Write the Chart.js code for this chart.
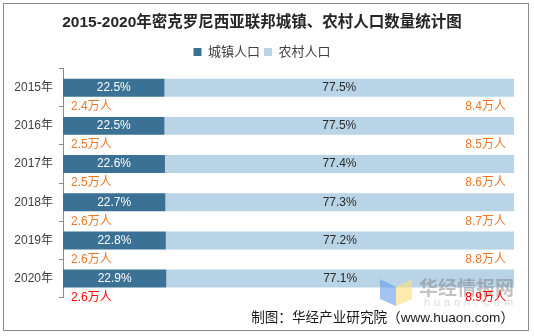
<!DOCTYPE html>
<html>
<head>
<meta charset="utf-8">
<script src="https://cdn.jsdelivr.net/npm/chart.js@4/dist/chart.umd.min.js"></script>
<style>
  html, body { margin: 0; padding: 0; background: #ffffff; }
  #wrap { width: 534px; height: 336px; }
</style>
</head>
<body>
<div id="wrap"><canvas id="c" width="534" height="336"></canvas></div>
<script>
const categories = ['2015年', '2016年', '2017年', '2018年', '2019年', '2020年'];
const urbanShare = [22.5, 22.5, 22.6, 22.7, 22.8, 22.9];
const ruralShare = [77.5, 77.5, 77.4, 77.3, 77.2, 77.1];
const urbanPop = [2.4, 2.5, 2.5, 2.6, 2.6, 2.6];
const ruralPop = [8.4, 8.5, 8.6, 8.7, 8.8, 8.9];
const seriesNames = ['城镇人口', '农村人口'];

const FONT = "'Liberation Sans', 'Noto Sans CJK SC', sans-serif";
const DARK = '#3a7194';
const LIGHT = '#b8d4e6';
const ORANGE = '#e8782a';
const RED = '#ff0000';

const framePlugin = {
  id: 'frame',
  beforeDraw(chart) {
    const ctx = chart.ctx;
    ctx.save();
    ctx.fillStyle = '#ffffff';
    ctx.fillRect(0, 0, chart.width, chart.height);
    ctx.strokeStyle = '#8c8c8c';
    ctx.lineWidth = 1;
    ctx.strokeRect(3.5, 3.5, 525, 327);
    ctx.restore();
  }
};

const watermarkPlugin = {
  id: 'watermark',
  afterDatasetsDraw(chart) {
    const ctx = chart.ctx;
    ctx.save();
    ctx.fillStyle = 'rgba(90,150,235,0.55)';
    ctx.beginPath();
    ctx.moveTo(380, 279); ctx.lineTo(396, 287); ctx.lineTo(396, 306); ctx.lineTo(380, 299);
    ctx.closePath(); ctx.fill();
    ctx.fillStyle = 'rgba(250,225,120,0.6)';
    ctx.beginPath();
    ctx.moveTo(396, 287); ctx.lineTo(412, 279); ctx.lineTo(412, 299); ctx.lineTo(396, 306);
    ctx.closePath(); ctx.fill();
    ctx.fillStyle = 'rgba(120,120,120,0.45)';
    ctx.font = "bold 19px 'Noto Sans CJK SC', sans-serif";
    ctx.textBaseline = 'middle';
    ctx.textAlign = 'left';
    ctx.fillText('华经情报网', 419, 288);
    ctx.fillStyle = 'rgba(150,150,150,0.35)';
    ctx.font = "11px " + FONT;
    const s = 'huaon.com';
    for (let i = 0; i < s.length; i++) {
      ctx.fillText(s[i], 424 + i * 10, 303);
    }
    ctx.restore();
  }
};

const labelPlugin = {
  id: 'valueLabels',
  afterDraw(chart) {
    const ctx = chart.ctx;
    const xs = chart.scales.x;
    const ys = chart.scales.y;
    const half = (ys.getPixelForValue(1) - ys.getPixelForValue(0)) / 2;
    ctx.save();
    ctx.textBaseline = 'middle';
    ctx.font = '12px ' + FONT;
    const m0 = chart.getDatasetMeta(0).data;
    const m1 = chart.getDatasetMeta(1).data;
    for (let i = 0; i < categories.length; i++) {
      ctx.textAlign = 'center';
      const b0 = m0[i];
      ctx.fillStyle = '#ffffff';
      ctx.fillText(urbanShare[i].toFixed(1) + '%', (b0.base + b0.x) / 2, b0.y);
      const b1 = m1[i];
      ctx.fillStyle = '#2b2b2b';
      ctx.fillText(ruralShare[i].toFixed(1) + '%', (b1.base + b1.x) / 2, b1.y);

      const y = ys.getPixelForValue(i) + half;
      const col = i === categories.length - 1 ? RED : ORANGE;
      ctx.fillStyle = col;
      ctx.textAlign = 'left';
      ctx.fillText(urbanPop[i].toFixed(1) + '万人', xs.getPixelForValue(0) + 8, y);
      ctx.textAlign = 'right';
      ctx.fillText(ruralPop[i].toFixed(1) + '万人', xs.getPixelForValue(100) - 8, y);
    }
    ctx.restore();
  }
};

new Chart(document.getElementById('c'), {
  type: 'bar',
  data: {
    labels: categories,
    datasets: [
      { label: seriesNames[0], data: urbanShare, backgroundColor: DARK },
      { label: seriesNames[1], data: ruralShare, backgroundColor: LIGHT }
    ]
  },
  options: {
    indexAxis: 'y',
    responsive: false,
    animation: false,
    devicePixelRatio: 1,
    layout: { padding: { left: 10, right: 20, top: 0, bottom: 0 } },
    datasets: { bar: { categoryPercentage: 1, barPercentage: 0.47 } },
    scales: {
      x: { stacked: true, min: 0, max: 100, display: false },
      y: {
        stacked: true,
        afterFit(s) { s.width = 53; },
        border: { display: true, color: '#8c8c8c', width: 1 },
        grid: { drawOnChartArea: false, drawTicks: true, tickLength: 4, color: '#8c8c8c', offset: true },
        ticks: { color: '#404040', font: { size: 12, family: FONT }, padding: 6 }
      }
    },
    plugins: {
      title: {
        display: true,
        text: '2015-2020年密克罗尼西亚联邦城镇、农村人口数量统计图',
        color: '#262626',
        font: { size: 15.5, weight: 'bold', family: FONT },
        padding: { top: 13, bottom: 10 }
      },
      subtitle: {
        display: true,
        position: 'bottom',
        align: 'end',
        text: '制图：华经产业研究院（www.huaon.com）',
        color: '#1a1a1a',
        font: { size: 13.6, weight: 'normal', family: FONT },
        padding: { top: 12, bottom: 10 }
      },
      legend: {
        display: true,
        position: 'top',
        labels: {
          boxWidth: 8, boxHeight: 8, padding: 4,
          color: '#404040',
          font: { size: 13, family: FONT }
        }
      },
      tooltip: { enabled: false }
    }
  },
  plugins: [framePlugin, watermarkPlugin, labelPlugin]
});
</script>
</body>
</html>
